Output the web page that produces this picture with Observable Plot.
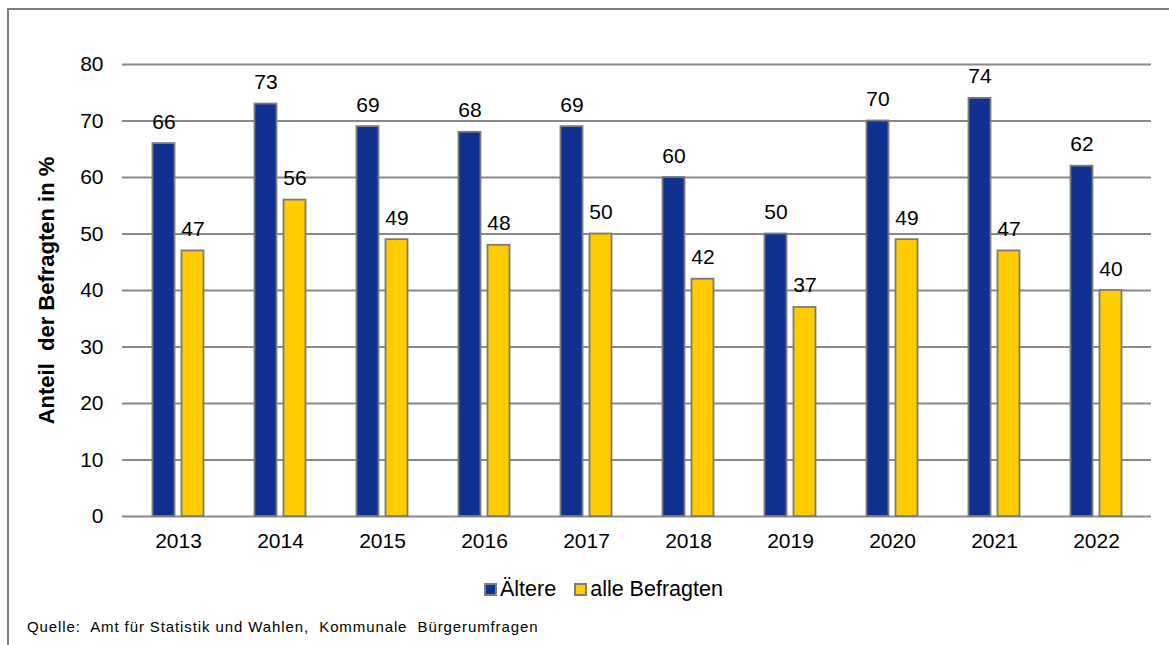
<!DOCTYPE html>
<html><head><meta charset="utf-8">
<script src="https://cdn.jsdelivr.net/npm/d3@7"></script>
<script src="https://cdn.jsdelivr.net/npm/@observablehq/plot@0.6"></script>
<style>
body{margin:0;width:1169px;height:645px;overflow:hidden;background:#fff;font-family:"Liberation Sans",Arial,sans-serif;position:relative}
#frame{position:absolute;left:7px;top:8px;width:1300px;height:800px;border-top:2px solid #7f7f7f;border-left:2px solid #7f7f7f;box-sizing:border-box}
#chart{position:absolute;left:0;top:0}
#chart svg{overflow:visible}
g[aria-label="y-axis label"] text{font-weight:bold;font-size:22px}
#legend{position:absolute;top:577px;left:484px;font-size:21.5px;display:flex;align-items:center;white-space:nowrap}
.item{display:flex;align-items:center}
.sw{width:9px;height:9px;border:2px solid #7f7f7f;display:inline-block;margin-right:3px}
#caption{position:absolute;left:27px;top:618px;font-size:15px;letter-spacing:0.9px;white-space:pre}
</style></head>
<body>
<div id="frame"></div>
<div id="chart"></div>
<div id="legend"></div>
<div id="caption"></div>
<script>
const years = ["2013","2014","2015","2016","2017","2018","2019","2020","2021","2022"];
const aeltere = [66,73,69,68,69,60,50,70,74,62];
const alleBefragten = [47,56,49,48,50,42,37,49,47,40];
const seriesNames = ["Ältere","alle Befragten"];
const seriesColors = ["#10318f","#ffcc00"];
const yTicks = [0,10,20,30,40,50,60,70,80];
const yLabel = "Anteil  der Befragten in %";
const captionText = "Quelle:  Amt für Statistik und Wahlen,  Kommunale  Bürgerumfragen";

const dA = years.map((y,i)=>({year:y, value:aeltere[i]}));
const dB = years.map((y,i)=>({year:y, value:alleBefragten[i]}));

const plot = Plot.plot({
  width:1169, height:560,
  marginLeft:122, marginRight:18, marginTop:64, marginBottom:44,
  style:{fontFamily:'"Liberation Sans",Arial,sans-serif', fontSize:"21px", color:"#000", background:"transparent"},
  x:{domain:years, padding:0, label:null},
  y:{domain:[0,80], label:null},
  marks:[
    Plot.gridY(yTicks,{stroke:"#898989", strokeOpacity:1, strokeWidth:2}),
    Plot.barY(dA,{x:"year", y:"value", fill:seriesColors[0], stroke:"#7a7a7a", strokeWidth:1.8, insetLeft:25.5, insetRight:54.5}),
    Plot.barY(dB,{x:"year", y:"value", fill:seriesColors[1], stroke:"#7a7a7a", strokeWidth:1.8, insetLeft:54.5, insetRight:25.5}),
    Plot.text(dA,{x:"year", y:"value", text:d=>String(d.value), dx:-14.5, dy:-15, lineAnchor:"bottom", fill:"#000"}),
    Plot.text(dB,{x:"year", y:"value", text:d=>String(d.value), dx:14.5, dy:-15, lineAnchor:"bottom", fill:"#000"}),
    Plot.axisX({tickSize:0, tickPadding:17, label:null}),
    Plot.axisY(yTicks,{tickSize:0, tickPadding:19, label:yLabel, labelAnchor:"center", labelArrow:"none", labelOffset:84})
  ]
});
document.getElementById("chart").appendChild(plot);

const lg = document.getElementById("legend");
seriesNames.forEach((n,i)=>{
  const it = document.createElement("span");
  it.className="item";
  if(i>0) it.style.marginLeft="18px";
  const sw = document.createElement("span");
  sw.className="sw"; sw.style.background=seriesColors[i];
  it.appendChild(sw);
  it.appendChild(document.createTextNode(n));
  lg.appendChild(it);
});
document.getElementById("caption").textContent = captionText;
</script>
</body></html>
